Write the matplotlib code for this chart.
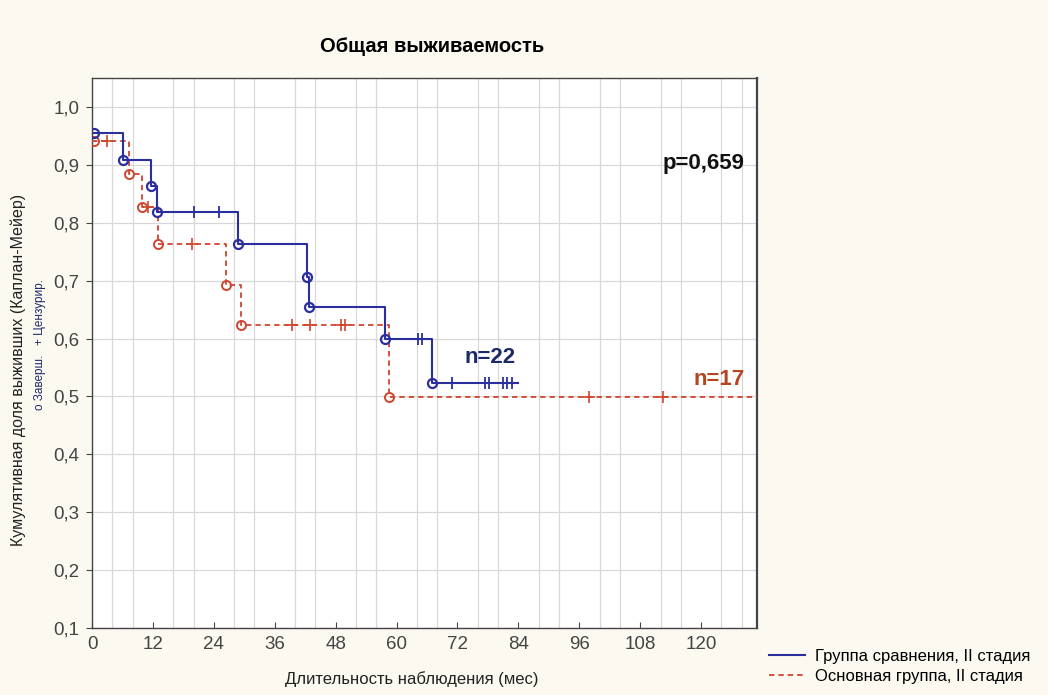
import numpy as np
import matplotlib
matplotlib.use("Agg")
import matplotlib.pyplot as plt
from matplotlib.lines import Line2D

# ---- data ----
blue_event_times = [0.3, 6.1, 11.6, 12.8, 28.7, 42.3, 42.8, 57.7, 66.9]
blue_event_surv = [0.955, 0.909, 0.864, 0.818, 0.763, 0.707, 0.655, 0.600, 0.524]
blue_cens_times = [20.1, 25.0, 64.2, 65.0, 71.0, 77.4, 78.3, 80.9, 81.7, 82.7]
blue_end = 84.0

red_event_times = [0.3, 7.2, 9.8, 13.0, 26.3, 29.3, 58.5]
red_event_surv = [0.941, 0.884, 0.827, 0.763, 0.692, 0.623, 0.499]
red_cens_times = [3.0, 11.0, 19.7, 39.4, 43.0, 49.0, 49.8, 98.0, 112.4]
red_end = 131.0

x_ticks = [0, 12, 24, 36, 48, 60, 72, 84, 96, 108, 120]
y_ticks = [0.1, 0.2, 0.3, 0.4, 0.5, 0.6, 0.7, 0.8, 0.9, 1.0]

BLUE = "#2b2f9e"
RED = "#d0452f"
BG = "#fcf9f0"

plt.rcParams['font.family'] = ['Liberation Sans', 'DejaVu Sans']

fig = plt.figure(figsize=(10.48, 6.95), dpi=100, facecolor=BG)
ax = fig.add_axes([92/1048, 1-628/695, (757-92)/1048, (628-78)/695])
ax.set_facecolor("white")


def step_xy(times, surv, end):
    xs = [0.0] + list(times[1:]) + [end]
    ys = list(surv) + [surv[-1]]
    return xs, ys


def value_at(times, surv, t):
    idx = np.searchsorted(np.array(times), t, side='right') - 1
    return surv[max(idx, 0)]


# red (dashed)
rx, ry = step_xy(red_event_times, red_event_surv, red_end)
ax.plot(rx, ry, drawstyle='steps-post', color=RED, lw=1.3,
        linestyle=(0, (3, 2.2)), zorder=3)
ax.plot(red_event_times, red_event_surv, 'o', mfc='none', mec=RED,
        ms=6.5, mew=1.4, zorder=4)
ax.plot(red_cens_times, [value_at(red_event_times, red_event_surv, t) for t in red_cens_times],
        '+', color=RED, ms=9, mew=1.2, zorder=4)

# blue (solid)
bx, by = step_xy(blue_event_times, blue_event_surv, blue_end)
ax.plot(bx, by, drawstyle='steps-post', color=BLUE, lw=1.5, zorder=5)
ax.plot(blue_event_times, blue_event_surv, 'o', mfc='none', mec=BLUE,
        ms=6.5, mew=1.6, zorder=6)
ax.plot(blue_cens_times, [value_at(blue_event_times, blue_event_surv, t) for t in blue_cens_times],
        '|', color=BLUE, ms=9, mew=1.3, zorder=6)

ax.set_xlim(0, 131)
ax.set_ylim(0.1, 1.05)
ax.set_xticks(x_ticks)
ax.set_xticks(np.arange(0, 131, 4), minor=True)
ax.set_yticks(y_ticks)
ax.set_yticklabels([f"{v:.1f}".replace('.', ',') for v in y_ticks])
ax.set_xticklabels([str(v) for v in x_ticks])
ax.grid(True, which='minor', axis='x', color='#d8d8d8', lw=0.9)
ax.grid(True, which='major', axis='y', color='#d8d8d8', lw=0.9)
ax.tick_params(axis='x', which='minor', length=0)
ax.tick_params(axis='x', which='major', length=4, direction='in', labelsize=13.5,
               colors='#444444', pad=6)
ax.tick_params(axis='y', which='major', length=4, direction='out', labelsize=13.5,
               colors='#444444', pad=5)
for lab in ax.get_xticklabels() + ax.get_yticklabels():
    lab.set_family(['Liberation Sans Narrow', 'Liberation Sans', 'DejaVu Sans'])
for s in ax.spines.values():
    s.set_color('#444444')
    s.set_linewidth(1.0)
ax.spines['right'].set_linewidth(1.6)

# texts
fig.text(432/1048, 1-47/695, "Общая выживаемость", ha='center', va='center',
         fontsize=14.5, fontweight='bold', color='black')
ax.text(0.982, 0.845, "p=0,659", transform=ax.transAxes, ha='right', va='center',
        fontsize=16, fontweight='bold', color='#111111')
ax.text(83.4, 0.568, "n=22", ha='right', va='center', fontsize=16,
        fontweight='bold', color='#1c2a6a')
ax.text(128.5, 0.530, "n=17", ha='right', va='center', fontsize=16,
        fontweight='bold', color='#b5441f')

fig.text(412/1048, 1-679/695, "Длительность наблюдения (мес)", ha='center', va='center',
         fontsize=12, color='#222222')
fig.text(18/1048, 1-370/695, "Кумулятивная доля выживших (Каплан-Мейер)", ha='center',
         va='center', rotation=90, fontsize=11.5, color='#222222')
fig.text(40/1048, 1-345/695, "o Заверш.   + Цензурир.", ha='center', va='center',
         rotation=90, fontsize=8.5, color='#1c2a6a')

handles = [Line2D([0], [0], color=BLUE, lw=1.5),
           Line2D([0], [0], color=RED, lw=1.3, linestyle=(0, (3, 2.2)))]
fig.legend(handles, ["Группа сравнения, II стадия", "Основная группа, II стадия"],
           loc='lower left', bbox_to_anchor=(762/1048, 1-691/695), frameon=False,
           fontsize=12, handlelength=2.2, handletextpad=0.6, labelspacing=0.35,
           borderaxespad=0)

fig.savefig("out.png", dpi=100, facecolor=BG)
